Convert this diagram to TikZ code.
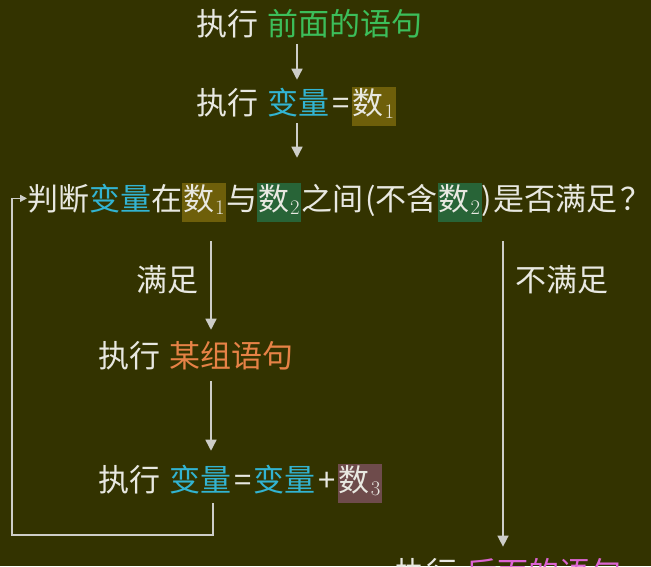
\documentclass[tikz,border=0pt]{standalone}
\usepackage{fontspec}
\setmainfont{Noto Sans CJK SC}
\usetikzlibrary{arrows.meta,calc}
\definecolor{bgolive}{RGB}{51,51,0}
\definecolor{txtwhite}{RGB}{232,232,225}
\definecolor{stmtgreen}{RGB}{60,190,90}
\definecolor{varcyan}{RGB}{50,180,210}
\definecolor{grporange}{RGB}{230,130,70}
\definecolor{restpink}{RGB}{220,100,210}
\definecolor{boxochre}{RGB}{110,95,10}
\definecolor{boxgreen}{RGB}{40,100,55}
\definecolor{boxmauve}{RGB}{110,75,75}
\definecolor{linegray}{RGB}{205,205,200}
\newcommand{\hlnum}[2]{{\setlength{\fboxsep}{1pt}\colorbox{#1}{\strut 数\kern1pt$_{#2}$}}}
\newcommand{\eqsign}{\kern2.5pt=\kern2.5pt}
\newcommand{\plsign}{\kern2.5pt+\kern2.5pt}

\begin{document}
\begin{tikzpicture}[x=1pt,y=-1pt,>=Stealth,
  stmt/.style={anchor=base west,inner sep=0pt,text=txtwhite,font={\fontsize{31}{36}\selectfont}},
  cond/.style={inner sep=0pt,text=txtwhite,font={\fontsize{31}{36}\selectfont}},
  flow/.style={draw=linegray,line width=1.4pt,-{Triangle[width=11pt,length=11pt]}},
  back/.style={draw=linegray,line width=1.4pt,-{Triangle[width=7pt,length=7pt]}}]
\fill[bgolive] (0,0) rectangle (651,566);
\clip (0,0) rectangle (651,566);
% statements
\node[stmt] (top) at (196,35) {执行\hspace{0.3em}\textcolor{stmtgreen}{前面的语句}};
\node[stmt] (set1) at (196,114) {执行\hspace{0.3em}\textcolor{varcyan}{变量}\eqsign\hlnum{boxochre}{1}};
\node[stmt] (judge) at (27,210) {判断\textcolor{varcyan}{变量}在\hlnum{boxochre}{1}与\hlnum{boxgreen}{2}之间\kern2pt(不含\hlnum{boxgreen}{2})\kern1pt是否满足\kern3pt\makebox[0.6em][l]{？}};
\node[stmt] (group) at (98,367) {执行\hspace{0.3em}\textcolor{grporange}{某组语句}};
\node[stmt] (incr) at (98,491) {执行\hspace{0.3em}\textcolor{varcyan}{变量}\eqsign\textcolor{varcyan}{变量}\plsign\hlnum{boxmauve}{3}};
\node[stmt] (rest) at (395,584) {执行\hspace{0.3em}\textcolor{restpink}{后面的语句}};
\node[cond] (yes) at (167,280) {满足};
\node[cond] (no) at (562,280) {不满足};
% connectors
\coordinate (ax) at (297,0);
\coordinate (bx) at (211,0);
\coordinate (cx) at (503,0);
\coordinate (lx) at (213,0);
\coordinate (lp) at (12,535);
\draw[flow] ([yshift=-6pt]top.south -| ax) -- ([yshift=7pt]set1.north -| ax);
\draw[flow] ([yshift=3pt]set1.south -| ax) -- ([yshift=25pt]judge.north -| ax);
\draw[flow] ([yshift=-19pt]judge.south -| bx) -- ([yshift=11pt]group.north -| bx);
\draw[flow] ([yshift=-11pt]group.south -| bx) -- ([yshift=13pt]incr.north -| bx);
\draw[flow] ([yshift=-19pt]judge.south -| cx) -- ([yshift=11pt]rest.north -| cx);
\draw[back] (incr.south -| lx) |- (lp) |- ([yshift=4pt]judge.west);
\end{tikzpicture}
\end{document}
